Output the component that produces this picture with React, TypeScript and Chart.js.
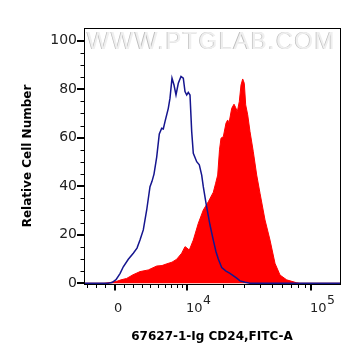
import React, { useEffect, useRef } from 'react';
import { Chart, registerables } from 'chart.js';

Chart.register(...registerables);

// Display channels (0..256 across the plot, logicle-like axis) and relative counts
const blueChannels = [0, 24, 28, 32, 36, 39.3, 44.3, 49.3, 53, 56, 59.3, 62.7, 66, 68, 70, 72.7, 75.3, 77.7, 79.3, 81, 84.3, 86, 88, 90, 92, 94.3, 97, 99.3, 101, 102.7, 104.3, 106, 107.7, 109.3, 112.7, 115.3, 117.7, 119.3, 122, 126, 129.3, 132, 134.3, 137.7, 142, 146, 152.7, 156, 161, 166, 256];
const blueCounts = [0, 0, 0.3, 1.5, 4, 6.8, 9.9, 12.4, 14.5, 17.8, 22, 30.2, 39.8, 42, 45, 52, 61.5, 63.9, 63.6, 66.6, 72.1, 76.3, 84.5, 81.7, 77.6, 82.4, 85.2, 84.5, 79, 77.6, 78.7, 77.6, 62.5, 53.6, 50.1, 48.8, 44.6, 39.8, 33, 24, 17.8, 13, 10, 6.5, 5, 4.1, 2.1, 1, 0.4, 0, 0];

const redChannels = [0, 20, 26, 32.7, 37, 42.7, 49, 56, 64.3, 72.7, 78, 82.7, 88, 92.7, 97.7, 101, 103, 105.3, 109.3, 114.3, 119.3, 124.3, 129.3, 131.5, 133.7, 135.5, 137, 139.3, 142, 143.7, 145, 147.7, 150, 151.7, 153.3, 155.3, 157, 158.7, 160.3, 161.7, 163.7, 166, 169.3, 172.7, 176, 181, 186, 191, 196, 202.7, 212.7, 216, 256];
const redCounts = [0, 0, 0.3, 0.8, 1.4, 2, 3.5, 4.8, 5.5, 7.1, 7.3, 8, 8.7, 9.9, 12.4, 15.1, 14.5, 13.7, 17.8, 24.7, 30.2, 33.6, 37.5, 41, 44.6, 55, 59.8, 60.4, 66, 67.3, 66, 72.1, 73.8, 72.4, 70.7, 74.9, 81.7, 84.2, 82.4, 73.5, 69.4, 62.5, 54.2, 44.6, 37.1, 26.1, 17.8, 8.2, 3.4, 1.4, 0.2, 0, 0];

const yTickValues = [0, 5, 10, 15, 20, 25, 30, 35, 40, 45, 50, 55, 60, 65, 70, 75, 80, 85, 90, 95, 100];
const yLabelValues = [0, 20, 40, 60, 80, 100];
const xMajorValues = [0, 10000, 100000];
const xMajorBases = ['0', '10', '10'];
const xMajorExps = ['', '4', '5'];
const xMinorValues = [-3000, -2000, -1000, 1000, 2000, 3000, 4000, 5000, 6000, 7000, 8000, 9000, 20000, 30000, 40000, 50000, 60000, 70000, 80000, 90000];

const xTitle = '67627-1-Ig CD24,FITC-A';
const yTitle = 'Relative Cell Number';
const watermarkText = 'WWW.PTGLAB.COM';

// logicle-like transform from fluorescence value to display channel
function toChannel(v: number): number {
  return 30.5 + 55.4 * Math.asinh(v / 5800);
}

const decorPlugin = {
  id: 'decor',
  beforeDatasetsDraw(chart: any) {
    const { ctx, chartArea } = chart;
    ctx.save();
    ctx.font = '24px "Liberation Sans", Arial, sans-serif';
    (ctx as any).letterSpacing = '1.3px';
    ctx.textAlign = 'left';
    ctx.textBaseline = 'alphabetic';
    const x = chartArea.left + 3;
    const y = chartArea.top + 21;
    ctx.fillStyle = '#bdbdbd';
    ctx.fillText(watermarkText, x - 0.8, y + 0.4);
    ctx.fillStyle = '#efefef';
    ctx.fillText(watermarkText, x, y);
    ctx.restore();
  },
  afterDraw(chart: any) {
    const { ctx, chartArea, scales } = chart;
    const xs = scales.x;
    const ys = scales.y;
    ctx.save();
    // frame
    ctx.strokeStyle = '#000';
    ctx.lineWidth = 1;
    ctx.strokeRect(chartArea.left + 0.5, chartArea.top + 0.5, chartArea.right - chartArea.left, chartArea.bottom - chartArea.top);
    // y ticks
    yTickValues.forEach((v) => {
      const py = Math.round(ys.getPixelForValue(v));
      const major = yLabelValues.includes(v);
      ctx.lineWidth = major ? 2 : 1;
      ctx.beginPath();
      const yy = major ? py : py + 0.5;
      ctx.moveTo(chartArea.left - (major ? 7 : 3.5), yy);
      ctx.lineTo(chartArea.left, yy);
      ctx.stroke();
    });
    // x ticks
    const base = chartArea.bottom + 0.5;
    xMinorValues.forEach((v) => {
      const px = Math.round(xs.getPixelForValue(toChannel(v))) + 0.5;
      ctx.lineWidth = 1;
      ctx.beginPath();
      ctx.moveTo(px, base);
      ctx.lineTo(px, base + 3.5);
      ctx.stroke();
    });
    xMajorValues.forEach((v, i) => {
      const px = Math.round(xs.getPixelForValue(toChannel(v)));
      ctx.lineWidth = 2;
      ctx.beginPath();
      ctx.moveTo(px, base);
      ctx.lineTo(px, base + 6);
      ctx.stroke();
      // labels
      ctx.fillStyle = '#222';
      ctx.textAlign = 'left';
      ctx.textBaseline = 'alphabetic';
      ctx.font = '13px "DejaVu Sans", sans-serif';
      const b = xMajorBases[i];
      ctx.fillText(b, px - 1, 311.5);
      const w = ctx.measureText(b).width;
      if (xMajorExps[i]) {
        ctx.font = '12.5px "DejaVu Sans", sans-serif';
        ctx.fillText(xMajorExps[i], px - 1 + w + 0.5, 303.5);
      }
    });
    ctx.restore();
  },
};

export default function App() {
  const canvasRef = useRef<HTMLCanvasElement | null>(null);

  useEffect(() => {
    if (!canvasRef.current) return;
    const chart = new Chart(canvasRef.current, {
      type: 'line',
      data: {
        datasets: [
          {
            label: 'Isotype',
            data: blueChannels.map((x, i) => ({ x, y: blueCounts[i] })),
            borderColor: '#15158f',
            borderWidth: 1.5,
            pointRadius: 0,
            fill: false,
            tension: 0,
          },
          {
            label: 'CD24',
            data: redChannels.map((x, i) => ({ x, y: redCounts[i] })),
            borderColor: '#ff0000',
            borderWidth: 1,
            backgroundColor: '#ff0000',
            pointRadius: 0,
            fill: 'origin',
            tension: 0,
          },
        ],
      },
      options: {
        animation: false,
        responsive: false,
        devicePixelRatio: 1,
        layout: { padding: { left: 0, top: 28, right: 24, bottom: 0 } },
        plugins: { legend: { display: false }, tooltip: { enabled: false } },
        scales: {
          x: {
            type: 'linear',
            min: 0,
            max: 256,
            grid: { display: false, drawTicks: false },
            border: { display: false },
            ticks: { display: false },
            title: {
              display: true,
              text: xTitle,
              color: '#000',
              font: { family: '"DejaVu Sans", sans-serif', size: 12, weight: 'bold' },
              padding: { top: 0, bottom: 20 },
            },
            afterFit(s: any) {
              s.height = 80;
            },
          },
          y: {
            type: 'linear',
            min: -0.3,
            max: 105.2,
            afterBuildTicks(s: any) {
              s.ticks = yTickValues.map((v) => ({ value: v }));
            },
            grid: { display: false, drawTicks: false },
            border: { display: false },
            ticks: {
              autoSkip: false,
              padding: 7,
              color: '#222',
              font: { family: '"DejaVu Sans", sans-serif', size: 14 },
              callback: (v: any) => (yLabelValues.includes(Number(v)) ? String(v) : ''),
            },
            title: {
              display: true,
              text: yTitle,
              color: '#000',
              font: { family: '"DejaVu Sans", sans-serif', size: 12, weight: 'bold' },
              padding: { top: 21, bottom: 0 },
            },
            afterFit(s: any) {
              s.width = 84;
            },
          },
        },
      } as any,
      plugins: [decorPlugin],
    });
    return () => chart.destroy();
  }, []);

  return (
    <div style={{ position: 'fixed', left: 0, top: 0, width: 364, height: 364, background: '#fff' }}>
      <canvas ref={canvasRef} width={364} height={364} style={{ width: 364, height: 364, display: 'block' }} />
    </div>
  );
}
